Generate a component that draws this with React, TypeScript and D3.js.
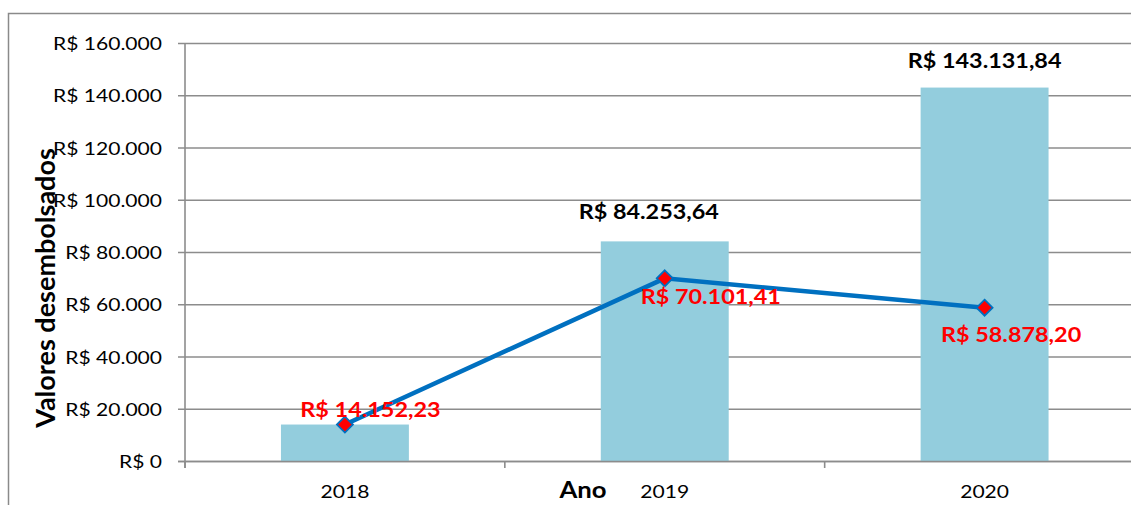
import React from "react";
import * as d3 from "d3";

const years = ["2018", "2019", "2020"];
const disbursed = [14152.23, 84253.64, 143131.84];
const lineValues = [14152.23, 70101.41, 58878.2];
const yTicks = [0, 20000, 40000, 60000, 80000, 100000, 120000, 140000, 160000];
// the 2018 bar label is hidden under the line label in the reference
const showBarLabel = [false, true, true];

// label placement offsets (layout, not data)
const barLabelOffset = [
  [0, -20],
  [-16, -22],
  [0, -20],
];
const lineLabelOffset = [
  [25.5, -7.5],
  [46, 25.6],
  [26.5, 34],
];

const W = 1131;
const H = 505;
const SX = 1.17;
const FONT = "Lato, 'Open Sans', sans-serif";

const fmtInt = (v: number) =>
  "R$ " + (v === 0 ? "0" : d3.format(",.0f")(v).replace(/,/g, "."));
const fmtDec = (v: number) => {
  const s = d3.format(",.2f")(v);
  return "R$ " + s.replace(/,/g, "#").replace(".", ",").replace(/#/g, ".");
};

function T({
  x,
  y,
  children,
  anchor = "middle",
  size = 18,
  weight = "normal",
  fill = "#000",
  rotate = 0,
  sx = SX,
}: any) {
  return (
    <text
      transform={`translate(${x},${y}) scale(${sx},1)${rotate ? ` rotate(${rotate})` : ""}`}
      textAnchor={anchor}
      fontSize={size}
      fontWeight={weight}
      fill={fill}
      fontFamily={FONT}
    >
      {children}
    </text>
  );
}

export default function App() {
  const left = 185;
  const right = 1144.5;
  const top = 43.5;
  const bottom = 461.5;

  const x = d3
    .scaleBand<string>()
    .domain(years)
    .range([left, right])
    .paddingInner(0.6)
    .paddingOuter(0.3);
  const y = d3.scaleLinear().domain([0, 160000]).range([bottom, top]);
  const cx = (yr: string) => (x(yr) as number) + x.bandwidth() / 2;

  const line = d3
    .line<number>()
    .x((_, i) => cx(years[i]))
    .y((d) => y(d));

  const step = x.step();
  const boundaries = [left, left + step, left + 2 * step];
  const grid = "#8c8c8c";

  return (
    <svg
      width={W}
      height={H}
      style={{ position: "absolute", left: 0, top: 0, background: "#fff" }}
    >
      <rect x={0} y={0} width={W} height={H} fill="#fff" />
      <rect
        x={8.5}
        y={13.5}
        width={W + 20}
        height={H + 20}
        fill="none"
        stroke="#8a8a8a"
        strokeWidth={1.5}
      />
      {yTicks.map((t) => (
        <g key={t}>
          <line x1={178} x2={W + 20} y1={y(t)} y2={y(t)} stroke={grid} strokeWidth={1.6} />
          <T x={162} y={y(t) + 6.5} anchor="end">
            {fmtInt(t)}
          </T>
        </g>
      ))}
      {disbursed.map((v, i) => (
        <rect
          key={i}
          x={x(years[i])}
          y={y(v)}
          width={x.bandwidth()}
          height={y(0) - y(v)}
          fill="#93CDDD"
        />
      ))}
      <line x1={left} x2={left} y1={top} y2={468} stroke={grid} strokeWidth={1.6} />
      {boundaries.map((b, i) => (
        <line key={i} x1={b} x2={b} y1={bottom} y2={468} stroke={grid} strokeWidth={1.6} />
      ))}
      <line x1={178} x2={W + 20} y1={bottom} y2={bottom} stroke={grid} strokeWidth={1.6} />
      <path d={line(lineValues) || ""} fill="none" stroke="#0070C0" strokeWidth={4.5} />
      {lineValues.map((v, i) => {
        const px = cx(years[i]);
        const py = y(v);
        const r = 8;
        return (
          <path
            key={i}
            d={`M${px},${py - r}L${px + r},${py}L${px},${py + r}L${px - r},${py}Z`}
            fill="#FF0000"
            stroke="#0070C0"
            strokeWidth={1.8}
          />
        );
      })}
      {disbursed.map((v, i) =>
        showBarLabel[i] ? (
          <T
            key={i}
            x={cx(years[i]) + barLabelOffset[i][0]}
            y={y(v) + barLabelOffset[i][1]}
            size={20}
            weight="bold"
          >
            {fmtDec(v)}
          </T>
        ) : null
      )}
      {lineValues.map((v, i) => (
        <T
          key={i}
          x={cx(years[i]) + lineLabelOffset[i][0]}
          y={y(v) + lineLabelOffset[i][1]}
          size={20}
          weight="bold"
          fill="#FF0000"
        >
          {fmtDec(v)}
        </T>
      ))}
      {years.map((yr) => (
        <T key={yr} x={cx(yr)} y={497.5}>
          {yr}
        </T>
      ))}
      <T x={583} y={498} size={22} weight="bold">
        Ano
      </T>
      <T x={55} y={288} size={27} weight="bold" rotate={-90} sx={1}>
        Valores desembolsados
      </T>
    </svg>
  );
}
